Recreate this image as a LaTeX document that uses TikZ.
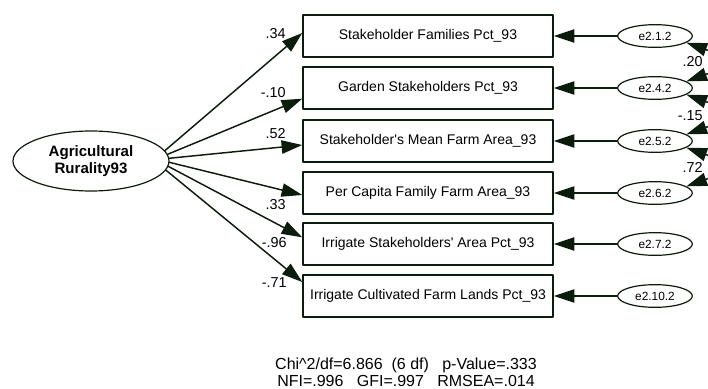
\documentclass[tikz,border=0pt]{standalone}
\usepackage{fontspec}
\setmainfont{Liberation Sans}
\usetikzlibrary{arrows.meta,shapes.geometric}
\definecolor{amosline}{RGB}{12,28,12}

\begin{document}
\begin{tikzpicture}[x=0.75pt,y=-0.75pt,line cap=round,line join=round,>={Triangle[length=15.5pt,width=10pt]},
obs/.style={draw=amosline,line width=1.1pt,minimum width=187.5pt,minimum height=31.5pt,inner sep=0pt,font=\fontsize{10.5}{12}\selectfont},
err/.style={ellipse,draw=amosline,line width=0.9pt,minimum width=56pt,minimum height=17pt,inner sep=0pt,font=\fontsize{8.9}{10}\selectfont},
lat/.style={ellipse,draw=amosline,line width=0.9pt,minimum width=117pt,minimum height=45pt,inner sep=0pt,align=center,font=\bfseries\fontsize{11.3}{12.5}\selectfont},
load/.style={->,draw=amosline,line width=1.1pt},
coef/.style={inner sep=0pt,font=\fontsize{10.8}{12}\selectfont}]
\useasboundingbox (0,0) rectangle (708,389);
\clip (0,0) rectangle (708,389);

\node[lat] (rur) at (91,161) {Agricultural\\Rurality93};

\foreach \i/\y/\a/\s/\txt/\e in {1/36/8/2.25/Stakeholder Families Pct\_93/e2.1.2,
2/88/5/-8/Garden Stakeholders Pct\_93/e2.4.2,
3/141/2/-3/Stakeholder\textquotesingle s Mean Farm Area\_93/e2.5.2,
4/193/-1/-1.5/Per Capita Family Farm Area\_93/e2.6.2,
5/244/-4/5/Irrigate Stakeholders\textquotesingle\ Area Pct\_93/e2.7.2,
6/296/-7/10.5/Irrigate Cultivated Farm Lands Pct\_93/e2.10.2}{
\node[obs] (b\i) at (428,\y) {\txt};
\node[err] (e\i) at (655,\y) {\e};
\draw[load] (e\i) -- (b\i);
\draw[load] (rur.\a) -- ([yshift=\s pt]b\i.west);
}

\node[coef,anchor=east] (l1) at (286,34) {.34};
\node[coef,anchor=east] (l2) at (286,93) {-.10};
\node[coef,anchor=east] (l3) at (286,134) {.52};
\node[coef,anchor=east] (l4) at (286,205) {.33};
\node[coef,anchor=east] (l5) at (287,243) {-.96};
\node[coef,anchor=east] (l6) at (287,283) {-.71};

\draw[load,<->] (e1.-12) .. controls +(45,16) and +(45,-16) .. (e2.12);
\draw[load,<->] (e2.-12) .. controls +(45,16) and +(45,-16) .. (e3.12);
\draw[load,<->] (e3.-12) .. controls +(45,16) and +(45,-16) .. (e4.12);
\node[coef,anchor=east] (k1) at (703,62) {.20};
\node[coef,anchor=east] (k2) at (703,116) {-.15};
\node[coef,anchor=east] (k3) at (703,167) {.72};

\node[coef,align=center,font=\fontsize{12}{13}\selectfont] (fit) at (406,372)
{Chi\textasciicircum 2/df=6.866\ \ (6 df)\ \ \ p-Value=.333\\NFI=.996\ \ \ GFI=.997\ \ \ RMSEA=.014};
\end{tikzpicture}
\end{document}
